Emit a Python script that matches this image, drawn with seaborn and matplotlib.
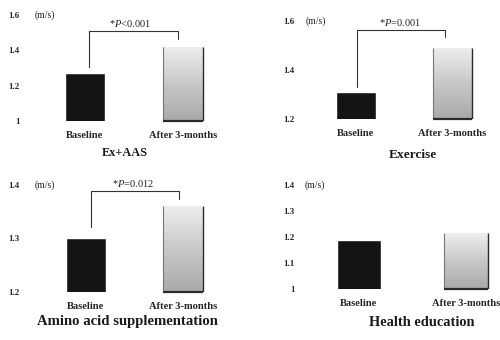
import numpy as np
import pandas as pd
import matplotlib
matplotlib.use("Agg")
import matplotlib.pyplot as plt
import seaborn as sns

# ---- data ----
groups = ["Ex+AAS", "Exercise", "Amino acid supplementation", "Health education"]
timepoints = ["Baseline", "After 3-months"]
baseline = [1.27, 1.31, 1.30, 1.19]
after = [1.42, 1.49, 1.36, 1.215]
p_labels = ["*$P$<0.001", "*$P$=0.001", "*$P$=0.012", None]
ylims = [(1.0, 1.6), (1.2, 1.6), (1.2, 1.4), (1.0, 1.4)]
yticks = [[1.0, 1.2, 1.4, 1.6], [1.2, 1.4, 1.6], [1.2, 1.3, 1.4], [1.0, 1.1, 1.2, 1.3, 1.4]]
ytick_labels = [["1", "1.2", "1.4", "1.6"], ["1.2", "1.4", "1.6"],
                ["1.2", "1.3", "1.4"], ["1", "1.1", "1.2", "1.3", "1.4"]]
unit = "(m/s)"

sns.set_theme(style="white")
plt.rcParams["font.family"] = ["Liberation Serif", "DejaVu Serif"]
plt.rcParams["mathtext.fontset"] = "custom"
plt.rcParams["mathtext.rm"] = "Liberation Serif"
plt.rcParams["mathtext.it"] = "Liberation Serif:italic"

W, H = 500, 340
fig = plt.figure(figsize=(W / 100, H / 100), dpi=100)
fig.patch.set_facecolor("white")

# layout in pixels: (left, right, top_px(for ymax), bottom_px(for ymin), x0 center, spacing)
layouts = [
    (24, 245, 15, 121, 85, 98),
    (299, 500, 21, 119, 356, 96.5),
    (24, 245, 185, 292, 86, 97),
    (299, 500, 185, 289, 359, 107),
]
# bracket geometry (data units): (x_left, x_right, y_left, y_top, y_right, text_x, text_y)
brackets = [
    (0.04, 0.95, 1.305, 1.51, 1.465, 0.46, 1.55),
    (0.01, 0.92, 1.33, 1.563, 1.535, 0.46, 1.592),
    (0.05, 0.96, 1.321, 1.389, 1.374, 0.48, 1.402),
    None,
]
title_pos = [(125, 153), (413, 155), (127, 322), (422, 322)]
title_size = [8.8, 9.6, 10.6, 10.4]
unit_pos = [(35, 15), (306, 21), (35, 185), (305, 185)]

grad = np.linspace(0, 1, 256).reshape(-1, 1)
gray_cmap = matplotlib.colors.LinearSegmentedColormap.from_list(
    "g", ["#a9a9a9", "#c8c8c8", "#eeeeee"])

for i in range(4):
    left, right, top, bot, c0, sp = layouts[i]
    ax = fig.add_axes([left / W, 1 - bot / H, (right - left) / W, (bot - top) / H])
    df = pd.DataFrame({"time": timepoints, "speed": [baseline[i], after[i]]})
    sns.barplot(data=df, x="time", y="speed", hue="time",
                palette=["#141414", "#d0d0d0"], width=0.41, ax=ax,
                legend=False, saturation=1)
    ax.set_ylim(*ylims[i])
    ax.set_xlim((left - c0) / sp, (right - c0) / sp)
    ax.set_yticks(yticks[i])
    ax.set_yticklabels(ytick_labels[i], fontsize=6.5, fontweight="bold")
    ax.tick_params(axis="y", length=0, pad=3)
    ax.tick_params(axis="x", length=0, pad=7)
    for lab in ax.get_xticklabels():
        lab.set_fontsize(7.6)
        lab.set_fontweight("bold")
    ax.set_xlabel("")
    ax.set_ylabel("")
    for s in ax.spines.values():
        s.set_visible(False)
    ax.set_facecolor("none")

    # gradient fill for the after bar
    p = ax.patches[1]
    x0, w, h = p.get_x(), p.get_width(), p.get_height()
    ymin = ylims[i][0]
    im = ax.imshow(grad, cmap=gray_cmap, aspect="auto", origin="lower",
                   extent=[x0, x0 + w, ymin, h], zorder=p.get_zorder() + 0.1)
    im.set_clip_path(p)
    ax.vlines([x0 + w], ymin, h, color="#2a2a2a", lw=1.0, zorder=5)
    ax.vlines([x0], ymin, h, color="#777777", lw=0.8, zorder=5)
    ax.hlines([ymin], x0, x0 + w, color="#2a2a2a", lw=1.6, zorder=5, clip_on=False)

    b = brackets[i]
    if b is not None:
        xl, xr, yl, yt, yr, tx, ty = b
        ax.plot([xl, xl, xr, xr], [yl, yt, yt, yr], color="#333333", lw=0.8,
                clip_on=False, zorder=6)
        ax.text(tx, ty, p_labels[i], ha="center", va="center", fontsize=7.5,
                color="#222222")

    fig.text(unit_pos[i][0] / W, 1 - unit_pos[i][1] / H, unit, fontsize=7,
             ha="left", va="center", color="#222222")
    fig.text(title_pos[i][0] / W, 1 - title_pos[i][1] / H, groups[i],
             fontsize=title_size[i], ha="center", va="center",
             fontweight="bold", color="#1a1a1a")

fig.savefig("out.png", dpi=100, facecolor="white")
